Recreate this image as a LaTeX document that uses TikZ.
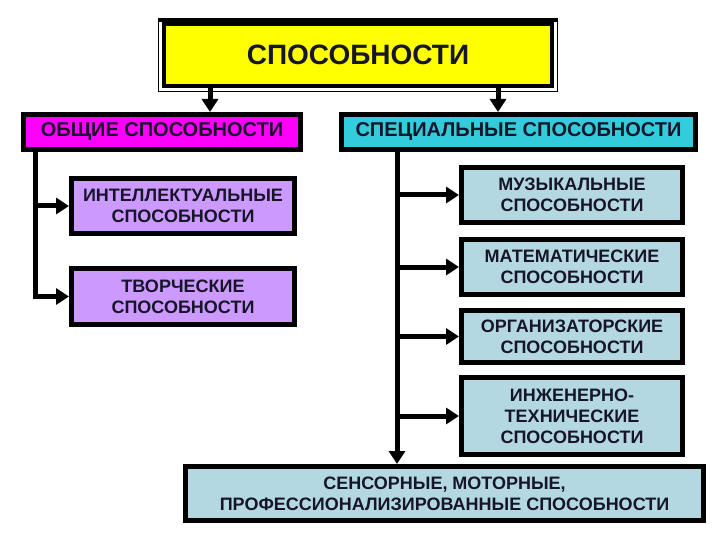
\documentclass[tikz,border=0pt]{standalone}
\usepackage{fontspec}
\setmainfont{Liberation Sans}
\usetikzlibrary{arrows.meta}
\definecolor{rootfill}{RGB}{255,255,0}
\definecolor{genfill}{RGB}{255,0,255}
\definecolor{lilac}{RGB}{204,153,255}
\definecolor{specfill}{RGB}{51,204,221}
\definecolor{paleblue}{RGB}{180,216,226}
\definecolor{ink}{RGB}{22,22,40}
\begin{document}
\begin{tikzpicture}[x=1pt,y=-1pt,
    box/.style={draw,line width=5pt,inner sep=0pt,align=center,text=ink,
        font=\bfseries\fontsize{18}{21}\selectfont},
    head/.style={box,minimum height=35pt,font=\bfseries\fontsize{20}{22}\selectfont},
    link/.style={line width=5pt},
    arr/.style={link,-{Triangle[length=13pt,width=16pt]}}]
    \useasboundingbox (0,0) rectangle (720,540);
    \node[box,fill=rootfill,line width=4pt,minimum width=388pt,minimum height=62pt,
        font=\bfseries\fontsize{28}{30}\selectfont] (root) at (358,55) {СПОСОБНОСТИ};
    \draw[line width=1.2pt] ([xshift=-3.5pt,yshift=3.5pt]root.north west) rectangle ([xshift=3.5pt,yshift=-3.5pt]root.south east);
    \fill ([xshift=-4pt]root.north west) rectangle ([xshift=4pt,yshift=3.5pt]root.north east);
    \node[head,fill=genfill,minimum width=277pt] (general) at (162,132) {ОБЩИЕ СПОСОБНОСТИ};
    \node[head,fill=specfill,minimum width=354pt] (special) at (518.5,132) {СПЕЦИАЛЬНЫЕ СПОСОБНОСТИ};
    \node[box,fill=lilac,minimum width=223pt,minimum height=55pt] (intel) at (183,206) {ИНТЕЛЛЕКТУАЛЬНЫЕ\\СПОСОБНОСТИ};
    \node[box,fill=lilac,minimum width=223pt,minimum height=56pt] (creative) at (183,296.5) {ТВОРЧЕСКИЕ\\СПОСОБНОСТИ};
    \node[box,fill=paleblue,minimum width=221pt,minimum height=55pt] (music) at (572,195) {МУЗЫКАЛЬНЫЕ\\СПОСОБНОСТИ};
    \node[box,fill=paleblue,minimum width=221pt,minimum height=55pt] (math) at (572,267) {МАТЕМАТИЧЕСКИЕ\\СПОСОБНОСТИ};
    \node[box,fill=paleblue,minimum width=221pt,minimum height=52pt] (org) at (572,336.5) {ОРГАНИЗАТОРСКИЕ\\СПОСОБНОСТИ};
    \node[box,fill=paleblue,minimum width=221pt,minimum height=77pt] (eng) at (572,416) {ИНЖЕНЕРНО-\\ТЕХНИЧЕСКИЕ\\СПОСОБНОСТИ};
    \node[box,fill=paleblue,minimum width=518pt,minimum height=54pt] (sensor) at (444.5,493.5) {СЕНСОРНЫЕ, МОТОРНЫЕ,\\ПРОФЕССИОНАЛИЗИРОВАННЫЕ СПОСОБНОСТИ};
    \coordinate (lx) at (210,0);
    \coordinate (rx) at (498,0);
    \coordinate (gx) at (35,0);
    \coordinate (sx) at (397,0);
    \draw[arr] (root.south -| lx) -- (general.north -| lx);
    \draw[arr] (root.south -| rx) -- (special.north -| rx);
    \draw[arr] (general.south -| gx) |- (creative.west);
    \draw[arr] (intel.west -| gx) -- (intel.west);
    \draw[arr] (special.south -| sx) -- (sensor.north -| sx);
    \foreach \b in {music,math,org,eng}
        \draw[arr] (\b.west -| sx) -- (\b.west);
\end{tikzpicture}
\end{document}
